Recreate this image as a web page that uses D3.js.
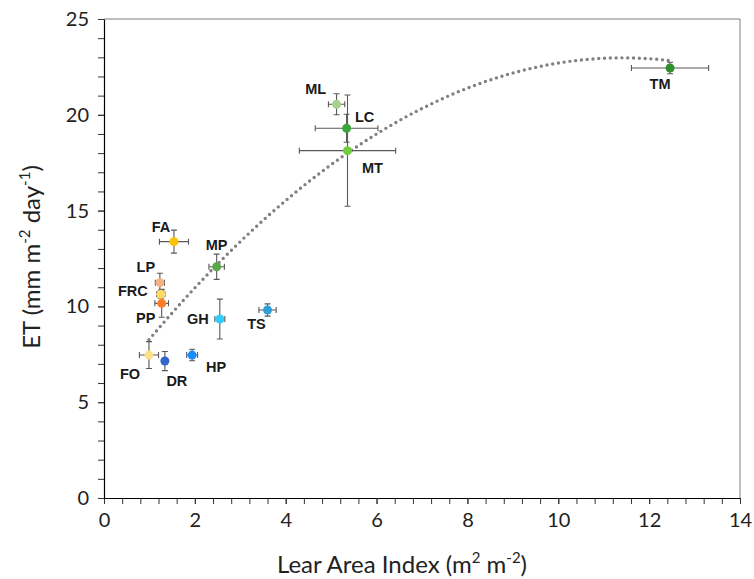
<!DOCTYPE html>
<html lang="en">
<head>
<meta charset="utf-8">
<title>ET vs LAI</title>
<style>
  body { margin: 0; background: #fff; font-family: Lato, "Noto Sans", sans-serif; }
  .tick text { font-size: 20px; fill: #222; }
  .lbl { font-family: "Liberation Sans", Arial, sans-serif; font-weight: bold; font-size: 14.5px; fill: #1a1a1a; }
</style>
<script src="https://cdn.jsdelivr.net/npm/d3@7"></script>
</head>
<body>
<script>
// site codes, LAI (x) and ET (y) with their error half-widths
var sites  = ["TM", "ML", "LC", "MT", "FA", "MP", "LP", "FRC", "PP", "GH", "TS", "FO", "DR", "HP"];
var lai    = [12.46, 5.12, 5.34, 5.36, 1.54, 2.48, 1.23, 1.25, 1.27, 2.55, 3.60, 0.99, 1.34, 1.94];
var laiErr = [0.85, 0.18, 0.69, 1.06, 0.32, 0.17, 0.10, 0.09, 0.15, 0.11, 0.19, 0.21, 0.00, 0.12];
var et     = [22.44, 20.55, 19.30, 18.13, 13.38, 12.07, 11.24, 10.63, 10.16, 9.34, 9.81, 7.46, 7.15, 7.46];
var etErr  = [0.30, 0.55, 0.73, 2.90, 0.60, 0.66, 0.49, 0.20, 0.73, 1.04, 0.32, 0.70, 0.50, 0.30];
var colors = ["#2f8f2f", "#a9d18e", "#3aa63a", "#6fcf3f", "#ffc000", "#5ba84a", "#f4b183",
              "#ffd966", "#ff7c27", "#33ccff", "#2e9fd9", "#ffe08a", "#3366cc", "#1a8cff"];
// label offsets (px) from each point
var labelDx = [-10, -21, 18, 25, -13, 0, -14, -28, -16, -22, -11, -19, 12, 24];
var labelDy = [16, -15, -11, 17, -15, -22, -16, -3, 15, 0, 14, 19, 20, 12];

// polynomial (order 2) trendline: y = c0 + c1 x + c2 x^2
var trendCoef = [5.33, 3.09, -0.1353];
var trendRange = [0.99, 12.46];

var xTicks = [0, 2, 4, 6, 8, 10, 12, 14];
var yTicks = [0, 5, 10, 15, 20, 25];

var width = 754, height = 579;
var pLeft = 104, pRight = 740, pTop = 19, pBottom = 498;

var svg = d3.select("body").append("svg")
  .attr("width", width)
  .attr("height", height);

var x = d3.scaleLinear().domain([0, 14]).range([pLeft, pRight]);
var y = d3.scaleLinear().domain([0, 25]).range([pBottom, pTop]);

// frame (top + right in grey)
svg.append("path")
  .attr("d", "M" + pLeft + "," + pTop + "H" + pRight + "V" + pBottom)
  .attr("fill", "none").attr("stroke", "#7f7f7f").attr("stroke-width", 1);

// minor ticks
svg.append("g")
  .attr("transform", "translate(0," + pBottom + ")")
  .call(d3.axisBottom(x).tickValues(d3.range(0, 14.01, 0.4)).tickSize(6).tickFormat(""))
  .call(function(g){ g.select(".domain").remove(); g.selectAll("line").attr("stroke", "#333"); });
svg.append("g")
  .attr("transform", "translate(" + pLeft + ",0)")
  .call(d3.axisLeft(y).tickValues(d3.range(0, 25.01, 1)).tickSize(6).tickFormat(""))
  .call(function(g){ g.select(".domain").remove(); g.selectAll("line").attr("stroke", "#333"); });

// main axes
var gx = svg.append("g")
  .attr("transform", "translate(0," + pBottom + ")")
  .call(d3.axisBottom(x).tickValues(xTicks).tickSize(6).tickPadding(9).tickSizeOuter(0));
var gy = svg.append("g")
  .attr("transform", "translate(" + pLeft + ",0)")
  .call(d3.axisLeft(y).tickValues(yTicks).tickSize(6).tickPadding(9).tickSizeOuter(0));
[gx, gy].forEach(function(g){
  g.select(".domain").attr("stroke", "#000").attr("stroke-width", 1.2);
  g.selectAll(".tick line").attr("stroke", "#333");
  g.selectAll(".tick text").style("font-family", "Lato, 'Noto Sans', sans-serif");
});

// trendline
var trendX = d3.range(trendRange[0], trendRange[1] + 0.001, 0.05);
var line = d3.line()
  .x(function(d){ return x(d); })
  .y(function(d){ return y(trendCoef[0] + trendCoef[1] * d + trendCoef[2] * d * d); });
svg.append("path")
  .datum(trendX)
  .attr("d", line)
  .attr("fill", "none")
  .attr("stroke", "#808080")
  .attr("stroke-width", 3.4)
  .attr("stroke-linecap", "round")
  .attr("stroke-dasharray", "0,5.8");

var idx = d3.range(sites.length);
var cap = 3;
var eb = svg.append("g").attr("stroke", "#595959").attr("stroke-width", 1.1).attr("fill", "none");
idx.forEach(function(i){
  var cx = x(lai[i]), cy = y(et[i]);
  if (laiErr[i] > 0) {
    var x0 = x(lai[i] - laiErr[i]), x1 = x(lai[i] + laiErr[i]);
    eb.append("path").attr("d", "M" + x0 + "," + cy + "H" + x1 +
      "M" + x0 + "," + (cy - cap) + "V" + (cy + cap) +
      "M" + x1 + "," + (cy - cap) + "V" + (cy + cap));
  }
  var y0 = y(et[i] - etErr[i]), y1 = y(et[i] + etErr[i]);
  eb.append("path").attr("d", "M" + cx + "," + y0 + "V" + y1 +
    "M" + (cx - cap) + "," + y0 + "H" + (cx + cap) +
    "M" + (cx - cap) + "," + y1 + "H" + (cx + cap));
});

svg.append("g").selectAll("circle")
  .data(idx)
  .enter().append("circle")
  .attr("cx", function(i){ return x(lai[i]); })
  .attr("cy", function(i){ return y(et[i]); })
  .attr("r", 4.5)
  .attr("fill", function(i){ return colors[i]; });

svg.append("g").selectAll("text")
  .data(idx)
  .enter().append("text")
  .attr("class", "lbl")
  .attr("x", function(i){ return x(lai[i]) + labelDx[i]; })
  .attr("y", function(i){ return y(et[i]) + labelDy[i]; })
  .attr("text-anchor", "middle")
  .attr("dy", "0.35em")
  .text(function(i){ return sites[i]; });

// axis titles
var xt = svg.append("text")
  .attr("x", 402).attr("y", 573)
  .attr("text-anchor", "middle")
  .style("font-size", "24px").style("fill", "#222");
xt.append("tspan").text("Lear Area Index (m");
xt.append("tspan").attr("dy", -10).style("font-size", "15px").text("2");
xt.append("tspan").attr("dy", 10).text(" m");
xt.append("tspan").attr("dy", -10).style("font-size", "15px").text("-2");
xt.append("tspan").attr("dy", 10).text(")");

var yt = svg.append("text")
  .attr("transform", "translate(40,257) rotate(-90)")
  .attr("text-anchor", "middle")
  .style("font-size", "24px").style("fill", "#222");
yt.append("tspan").text("ET (mm m");
yt.append("tspan").attr("dy", -10).style("font-size", "15px").text("-2");
yt.append("tspan").attr("dy", 10).text(" day");
yt.append("tspan").attr("dy", -10).style("font-size", "15px").text("-1");
yt.append("tspan").attr("dy", 10).text(")");
</script>
</body>
</html>
